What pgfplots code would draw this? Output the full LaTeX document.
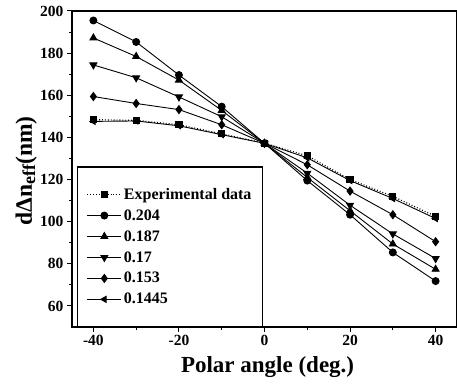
\documentclass[border=0pt]{standalone}
\usepackage{fontspec}
\setmainfont{Liberation Serif}
\usepackage{pgfplots}
\pgfplotsset{compat=1.18}
\begin{document}
\begin{tikzpicture}
\begin{axis}[
  name=ax,
  scale only axis,
  width=385pt, height=316pt,
  xmin=-45, xmax=45, ymin=50, ymax=200,
  xtick={-40,-20,0,20,40},
  ytick={60,80,...,200},
  minor x tick num=1, minor y tick num=1,
  tick align=outside, xtick pos=bottom, ytick pos=left,
  major tick length=5pt, minor tick length=3pt,
  every tick/.style={black, line width=1pt},
  axis line style={line width=1.4pt},
  /pgf/number format/assume math mode=true,
  ticklabel style={font=\fontsize{15.5}{15.5}\selectfont\bfseries},
  xlabel={Polar angle (deg.)},
  ylabel={dΔn\raisebox{-0.3ex}{\fontsize{18}{18}\selectfont eff}(nm)},
  every axis x label/.style={at={(axis description cs:0.508,-0.128)}, anchor=center,
    font=\fontsize{23}{23}\selectfont\bfseries},
  every axis y label/.style={at={(axis description cs:-0.119,0.494)}, anchor=center, rotate=90,
    font=\fontsize{23.5}{23.5}\selectfont\bfseries},
  legend style={at={(axis cs:-43.8,50)}, anchor=south west, draw=black, line width=1.2pt,
    font=\fontsize{16}{16}\selectfont\bfseries, row sep=4.8pt, inner xsep=9pt, inner ysep=19pt},
  legend cell align=left,
  legend image code/.code={\draw[#1, mark=none] (0pt,0pt) -- (34pt,0pt);
    \draw[#1, only marks] plot coordinates {(17pt,0pt)};},
  every axis plot/.append style={black, line width=0.9pt, mark options={solid, fill=black}},
]
\addplot[dotted, line width=1.2pt, mark=square*, mark size=3pt] coordinates {
(-40,148.4) (-30,148.1) (-20,146) (-10,141.7) (0,137.2) (10,131.3) (20,120) (30,112) (40,102.5)};
\addlegendentry{Experimental data}
\addplot[mark=*, mark size=3.5pt] coordinates {
(-40,195.5) (-30,185.3) (-20,169.6) (-10,154.6) (0,137.2) (10,119.5) (20,103.3) (30,85.4) (40,71.8)};
\addlegendentry{0.204}
\addplot[mark=triangle*, mark size=4pt] coordinates {
(-40,187.2) (-30,178.4) (-20,167.2) (-10,152.8) (0,137.2) (10,121) (20,105.2) (30,89.4) (40,77.4)};
\addlegendentry{0.187}
\addplot[mark=triangle*, mark size=4pt, mark options={rotate=180}] coordinates {
(-40,174.4) (-30,168.3) (-20,159.2) (-10,149.8) (0,137.2) (10,123) (20,107.8) (30,94.2) (40,82.5)};
\addlegendentry{0.17}
\addplot[mark=diamond*, mark size=4pt] coordinates {
(-40,159.4) (-30,156.1) (-20,153.2) (-10,146) (0,137.2) (10,127) (20,114.5) (30,103.3) (40,90.5)};
\addlegendentry{0.153}
\addplot[mark=triangle*, mark size=3.5pt, mark options={rotate=90}] coordinates {
(-40,147.6) (-30,147.8) (-20,145.5) (-10,141.3) (0,137.2) (10,130.3) (20,119.5) (30,111) (40,101.5)};
\addlegendentry{0.1445}
\end{axis}
\pgfresetboundingbox
\path ([xshift=-72pt,yshift=-60pt]ax.south west) rectangle ([yshift=11pt]ax.north east);
\end{tikzpicture}
\end{document}
